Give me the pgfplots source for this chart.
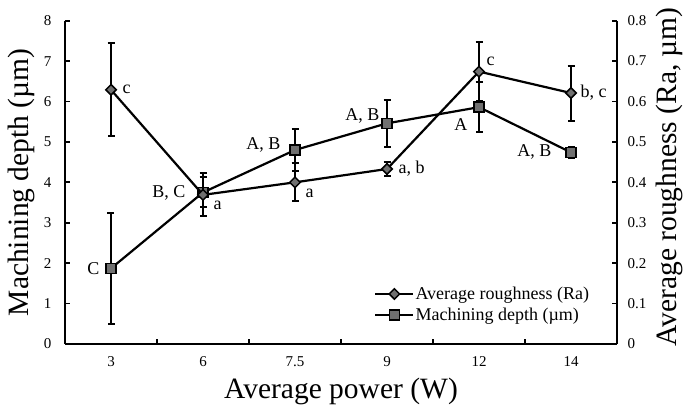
\documentclass[border=0pt]{standalone}
\usepackage{fontspec}
\setmainfont{Liberation Serif}
\usepackage{pgfplots}
\pgfplotsset{compat=1.18}
\definecolor{mk}{RGB}{112,112,112}
\newcommand{\lab}{\fontsize{18}{21}\selectfont}
\begin{document}
\begin{tikzpicture}
\pgfplotsset{
  common/.style={
    width=552pt, height=323.3pt, scale only axis,
    xmin=-0.5, xmax=5.5,
    axis line style={-, line width=2pt, black},
    tick align=inside,
    major tick length=5pt,
    tick style={line width=1.8pt, black},
    /pgf/number format/assume math mode=true,
    tick label style={font=\fontsize{15}{18}\selectfont},
    label style={font=\fontsize{29.5}{34}\selectfont},
    clip=false,
  },
  errs/.style={
    error bars/y dir=both, error bars/y explicit,
    error bars/error bar style={line width=2pt, black, solid},
    error bars/error mark options={rotate=90, mark size=3.5pt, line width=2pt, black, solid}},
}
\begin{axis}[common,
  axis x line*=bottom, axis y line*=left,
  ymin=0, ymax=8, ytick={0,1,2,3,4,5,6,7,8},
  xtick={0.5,1.5,2.5,3.5,4.5}, xticklabels={},
  extra x ticks={0,1,2,3,4,5},
  extra x tick labels={3,6,7.5,9,12,14},
  extra x tick style={major tick length=0pt, tick label style={yshift=-9pt}},
  yticklabel style={xshift=-10pt},
  xlabel={Average power (W)},
  ylabel={Machining depth (µm)},
  xlabel style={at={(axis description cs:0.5,-0.148)}, anchor=center},
  ylabel style={at={(axis description cs:-0.078,0.5)}, anchor=center},
]
\addplot[line width=2.2pt, black, mark=square*, mark size=5pt, mark options={fill=mk, line width=1.5pt, solid}, errs] coordinates {
 (0,1.87) +- (0,1.37)
 (1,3.75) +- (0,0.37)
 (2,4.80) +- (0,0.51)
 (3,5.46) +- (0,0.58)
 (4,5.86) +- (0,0.62)
 (5,4.74) +- (0,0.14)
};
\node[anchor=east, font=\lab] at (axis cs:0,1.87) [xshift=-8pt] {C};
\node[anchor=east, font=\lab] at (axis cs:1,3.75) [xshift=-14pt] {B, C};
\node[anchor=east, font=\lab] at (axis cs:2,4.80) [xshift=-11pt, yshift=5pt] {A, B};
\node[anchor=east, font=\lab] at (axis cs:3,5.46) [xshift=-4pt, yshift=7pt] {A, B};
\node[anchor=east, font=\lab] at (axis cs:4,5.86) [xshift=-8pt, yshift=-17pt] {A};
\node[anchor=east, font=\lab] at (axis cs:5,4.74) [xshift=-16pt] {A, B};
\coordinate (BB1) at (rel axis cs:-0.11775,-0.20414);
\coordinate (BB2) at (rel axis cs:1.125,1.064);
\end{axis}
\begin{axis}[common,
  axis x line=none, axis y line*=right,
  ymin=0, ymax=0.8,
  ytick={0,0.1,0.2,0.3,0.4,0.5,0.6,0.7,0.8},
  yticklabels={0,0.1,0.2,0.3,0.4,0.5,0.6,0.7,0.8},
  yticklabel style={xshift=7pt},
  ylabel={Average roughness (Ra, µm)},
  ylabel style={at={(axis description cs:1.0942,0.517)}, anchor=center},
  legend style={at={(axis description cs:0.56,0.18)}, anchor=north west, draw=none, fill=none,
    font=\lab, row sep=5pt, inner sep=0pt, nodes={inner sep=1pt}},
  legend cell align=left,
  legend image code/.code={\draw[mark repeat=2,mark phase=2,#1] plot coordinates {(0pt,0pt) (19pt,0pt) (38pt,0pt)};},
]
\addplot[line width=2.2pt, black, mark=square*, mark size=3.7pt, mark options={fill=mk, line width=1.5pt, solid, rotate=45}, errs] coordinates {
 (0,0.629) +- (0,0.115)
 (1,0.369) +- (0,0.053)
 (2,0.400) +- (0,0.047)
 (3,0.433) +- (0,0.017)
 (4,0.674) +- (0,0.073)
 (5,0.621) +- (0,0.068)
};
\addlegendentry{Average roughness (Ra)}
\addlegendimage{line width=2.2pt, black, mark=square*, mark size=5pt, mark options={fill=mk, line width=1.5pt, solid}}
\addlegendentry{Machining depth (µm)}
\node[anchor=west, font=\lab] at (axis cs:0,0.629) [xshift=8pt] {c};
\node[anchor=north west, font=\lab] at (axis cs:1,0.369) [xshift=7pt, yshift=-3pt] {a};
\node[anchor=north west, font=\lab] at (axis cs:2,0.400) [xshift=7pt, yshift=-3pt] {a};
\node[anchor=west, font=\lab] at (axis cs:3,0.433) [xshift=8pt] {a, b};
\node[anchor=south west, font=\lab] at (axis cs:4,0.674) [xshift=4pt, yshift=2pt] {c};
\node[anchor=west, font=\lab] at (axis cs:5,0.621) [xshift=6pt] {b, c};
\end{axis}
\pgfresetboundingbox
\path[use as bounding box] (BB1) rectangle (BB2);
\end{tikzpicture}
\end{document}
